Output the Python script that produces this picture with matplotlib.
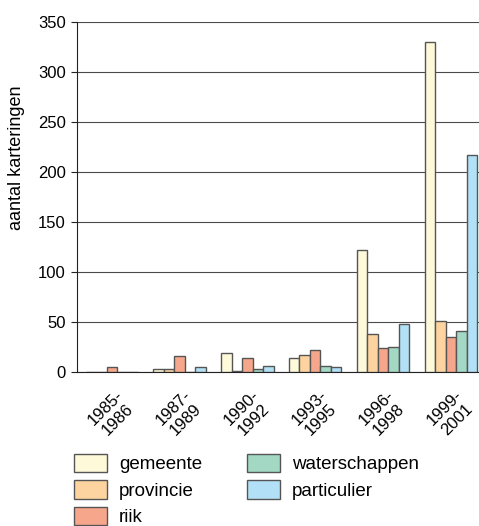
import numpy as np
import matplotlib
matplotlib.use('Agg')
import matplotlib.pyplot as plt

periods = ['1985-\n1986', '1987-\n1989', '1990-\n1992', '1993-\n1995', '1996-\n1998', '1999-\n2001']
series_names = ['gemeente', 'provincie', 'riik', 'waterschappen', 'particulier']
gemeente = [0, 3, 19, 14, 122, 330]
provincie = [0, 3, 1, 17, 38, 51]
riik = [5, 16, 14, 22, 24, 35]
waterschappen = [0, 0, 3, 6, 25, 41]
particulier = [0, 5, 6, 5, 48, 217]
colors = ['#fdf9d9', '#fdd4a0', '#f6a68a', '#a2d8c4', '#b2e0f6']

plt.rcParams['font.family'] = ['Liberation Sans', 'DejaVu Sans']

fig = plt.figure(figsize=(4.79, 5.26), dpi=100)
ax = fig.add_axes([77/479, 154/526, 402/479, 350/526])

data = [gemeente, provincie, riik, waterschappen, particulier]
x = np.arange(len(periods))
w = 0.155
for i, (name, vals) in enumerate(zip(series_names, data)):
    ax.bar(x + (i - 2) * w, vals, w, color=colors[i], edgecolor='#555555',
           linewidth=1.0, label=name, zorder=3)

ax.set_ylim(0, 350)
ax.set_xlim(-0.513, 5.416)
ax.set_yticks(range(0, 351, 50))
ax.yaxis.grid(True, color='#4a4a4a', linewidth=0.8, zorder=0)
ax.set_axisbelow(True)
for s in ['top', 'right']:
    ax.spines[s].set_visible(False)
ax.spines['left'].set_color('#222222')
ax.spines['bottom'].set_color('#222222')
ax.tick_params(axis='y', labelsize=12, length=4, pad=4, color='#222222')
ax.tick_params(axis='x', length=0, labelsize=12, pad=11)
ax.set_xticks(x)
ax.set_xticklabels(periods, rotation=45, ha='center', va='top', linespacing=1.15)
ax.set_ylabel('aantal karteringen', fontsize=13)
ax.yaxis.set_label_coords(-0.129, 0.611)

leg = fig.legend(loc='upper left', bbox_to_anchor=(70/479, 1 - 450/526), ncol=2,
                 frameon=False, fontsize=13.5, handlelength=1.76, handleheight=1.12,
                 labelspacing=0.38, columnspacing=2.4, handletextpad=0.64,
                 borderaxespad=0, borderpad=0.2)
for p in leg.get_patches():
    p.set_edgecolor('#555555')

fig.savefig('out.png', dpi=100)
